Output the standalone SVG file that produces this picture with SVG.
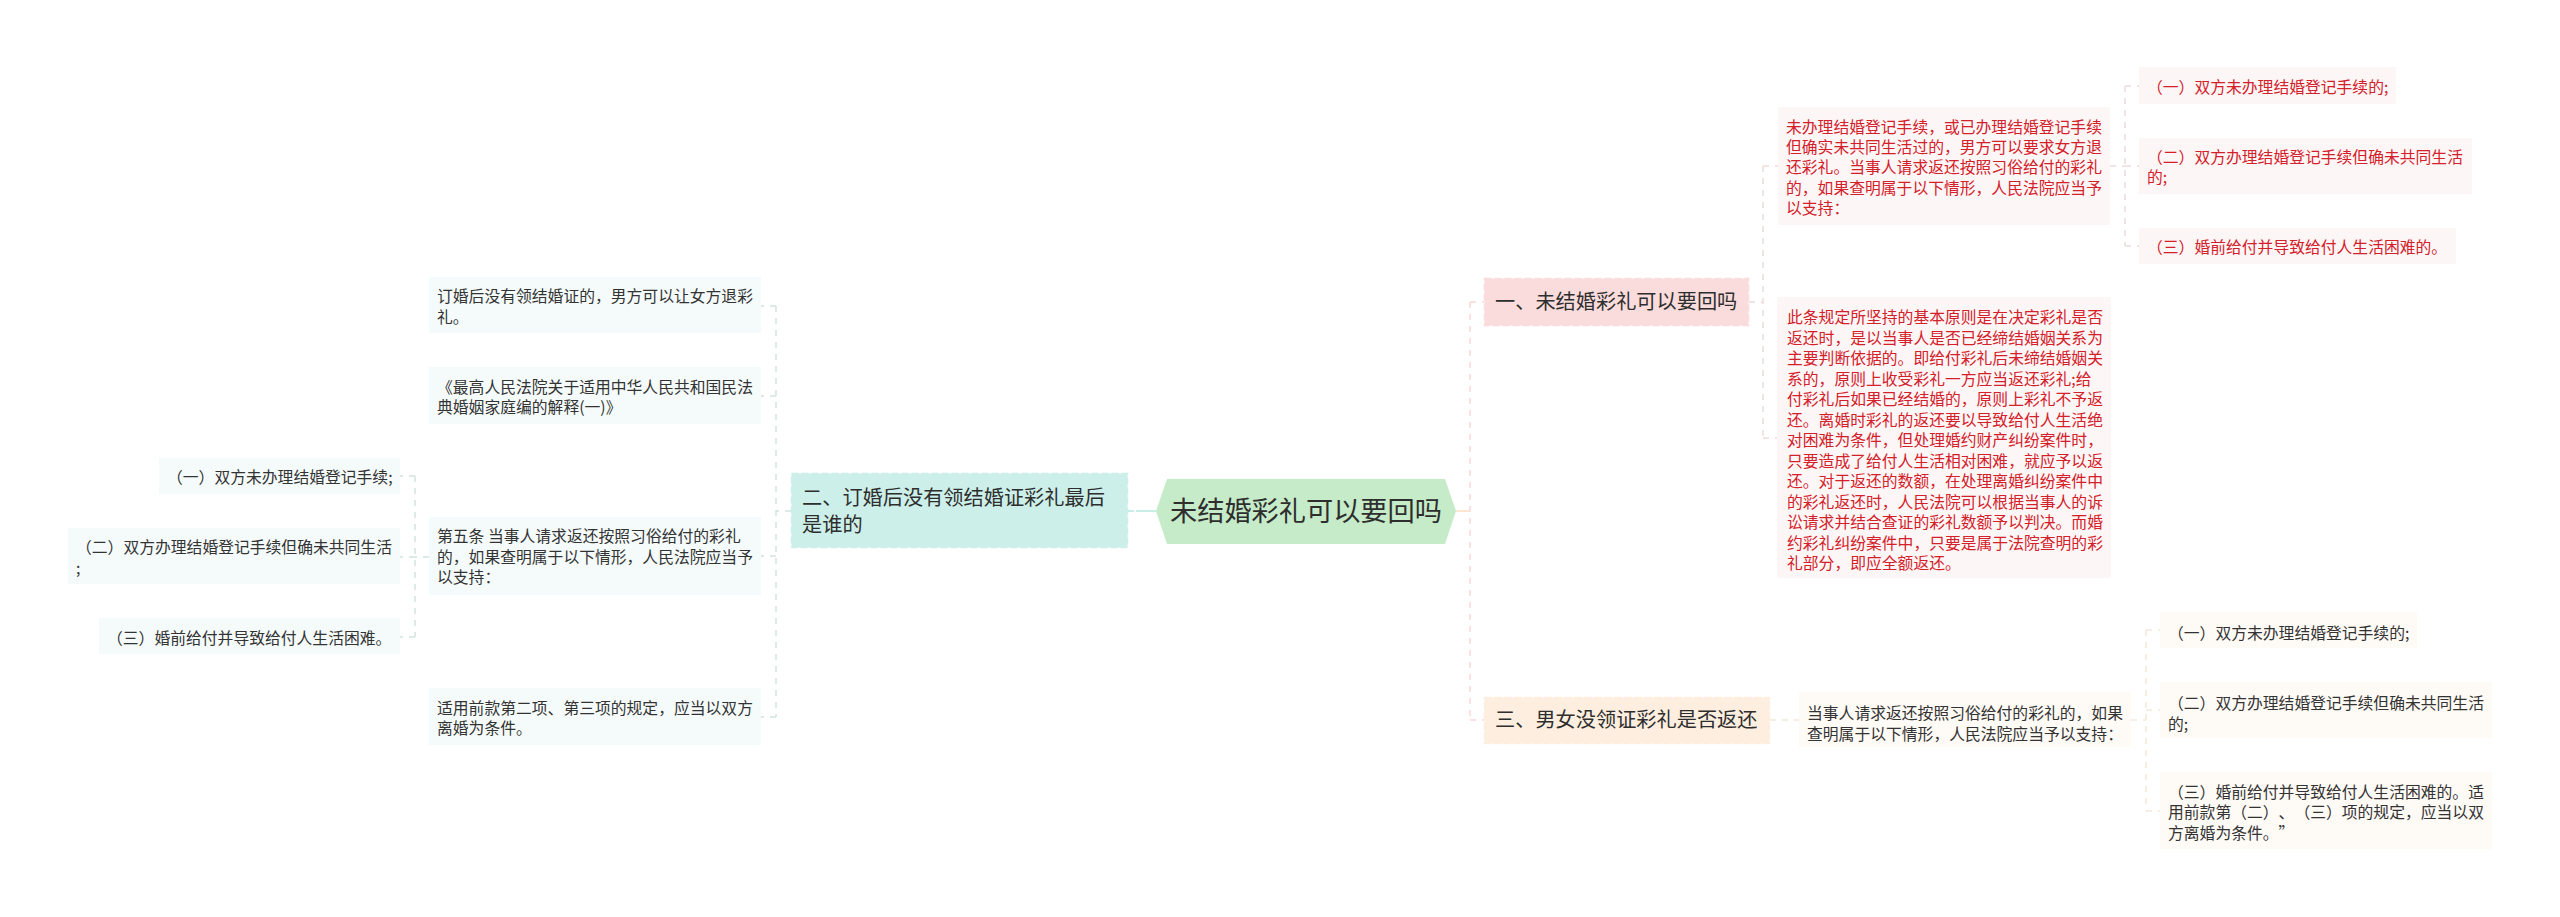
<svg xmlns="http://www.w3.org/2000/svg" width="2560" height="917" viewBox="0 0 2560 917">
<style>
text{font-family:"Noto Sans CJK SC","Liberation Sans",sans-serif;font-size:15.8px;fill:#333;font-weight:400;text-spacing-trim:space-all;font-feature-settings:"chws" 0,"palt" 0}
.l1 text{font-size:20.2px;fill:#2e2e2e}
.red text{fill:#d4202a}
.c{fill:none;stroke-width:1.5;stroke-dasharray:6 6}
.cr{stroke:#eddcdd}.co{stroke:#f3e8da}.cb{stroke:#d3e3e1}.cp{stroke:#fad8d8}
.nr{fill:#fdf6f6}.no{fill:#fefaf5}.nb{fill:#f5fbfb}
.d{stroke-width:1.5;stroke-dasharray:7 3}
</style>
<rect width="2560" height="917" fill="#fff"/>
<g id="connectors">
<path class="c cp" d="M1470 302V720M1470 302H1484M1470 720H1484"/>
<path d="M1456 511H1470" fill="none" stroke="#fbe6d2" stroke-width="2"/>
<path class="c cr" d="M1749 302H1763M1763 166V438M1763 166H1778M1763 438H1777"/>
<path class="c cr" d="M2110 166H2125M2125 86V246M2125 86H2139M2125 166H2139M2125 246H2139"/>
<path class="c co" d="M1770 720H1799M2131 720H2146M2146 630V811M2146 630H2160M2146 710H2160M2146 811H2160"/>
<path d="M1128 511H1134M1136 511H1156" fill="none" stroke="#c9eee8" stroke-width="2"/>
<path class="c cb" d="M791 511H776M776 306V717M776 306H761M776 396H761M776 556H761M776 717H761"/>
<path class="c cb" d="M429 557H415M415 476V637M415 476H400M415 557H400M415 637H400"/>
</g>
<g id="root"><polygon points="1156,511 1167,479 1445,479 1456,511 1445,544 1167,544" fill="#c6ebc8"/><text x="1170" y="521" style="font-size:27.2px;fill:#2e2e2e">未结婚彩礼可以要回吗</text></g>
<g id="n1" class="l1"><rect class="d" x="1484.500" y="278.500" width="264" height="47" fill="#fbdcdc" stroke="#fbdcdc"/><text x="1495" y="309">一、未结婚彩礼可以要回吗</text></g>
<g id="n2" class="l1"><rect class="d" x="791.500" y="473.500" width="336" height="74" fill="#ccefe9" stroke="#ccefe9"/><text><tspan x="802" y="504.500">二、订婚后没有领结婚证彩礼最后</tspan><tspan x="802" y="532">是谁的</tspan></text></g>
<g id="n3" class="l1"><rect class="d" x="1484.500" y="697.500" width="285" height="46" fill="#fdeedf" stroke="#fdeedf"/><text x="1495" y="727">三、男女没领证彩礼是否返还</text></g>
<g id="r1" class="red"><rect class="nr" x="1778" y="107" width="332" height="118"/><text><tspan x="1786" y="132.500">未办理结婚登记手续，或已办理结婚登记手续</tspan><tspan x="1786" y="153">但确实未共同生活过的，男方可以要求女方退</tspan><tspan x="1786" y="173">还彩礼。当事人请求返还按照习俗给付的彩礼</tspan><tspan x="1786" y="194">的，如果查明属于以下情形，人民法院应当予</tspan><tspan x="1786" y="214">以支持：</tspan></text></g>
<g id="r1a" class="red"><rect class="nr" x="2139" y="67" width="257" height="37"/><text x="2147" y="93">（一）双方未办理结婚登记手续的;</text></g>
<g id="r1b" class="red"><rect class="nr" x="2139" y="138" width="333" height="56"/><text><tspan x="2147" y="163">（二）双方办理结婚登记手续但确未共同生活</tspan><tspan x="2147" y="183">的;</tspan></text></g>
<g id="r1c" class="red"><rect class="nr" x="2139" y="228" width="317" height="36"/><text x="2147" y="253">（三）婚前给付并导致给付人生活困难的。</text></g>
<g id="r2" class="red"><rect class="nr" x="1777" y="297" width="334" height="281"/><text><tspan x="1787" y="323">此条规定所坚持的基本原则是在决定彩礼是否</tspan><tspan x="1787" y="344">返还时，是以当事人是否已经缔结婚姻关系为</tspan><tspan x="1787" y="364">主要判断依据的。即给付彩礼后未缔结婚姻关</tspan><tspan x="1787" y="385">系的，原则上收受彩礼一方应当返还彩礼;给</tspan><tspan x="1787" y="405">付彩礼后如果已经结婚的，原则上彩礼不予返</tspan><tspan x="1787" y="426">还。离婚时彩礼的返还要以导致给付人生活绝</tspan><tspan x="1787" y="446">对困难为条件，但处理婚约财产纠纷案件时，</tspan><tspan x="1787" y="467">只要造成了给付人生活相对困难，就应予以返</tspan><tspan x="1787" y="487">还。对于返还的数额，在处理离婚纠纷案件中</tspan><tspan x="1787" y="508">的彩礼返还时，人民法院可以根据当事人的诉</tspan><tspan x="1787" y="528">讼请求并结合查证的彩礼数额予以判决。而婚</tspan><tspan x="1787" y="549">约彩礼纠纷案件中，只要是属于法院查明的彩</tspan><tspan x="1787" y="569">礼部分，即应全额返还。</tspan></text></g>
<g id="o1"><rect class="no" x="1799" y="692" width="332" height="55"/><text><tspan x="1807" y="719">当事人请求返还按照习俗给付的彩礼的，如果</tspan><tspan x="1807" y="740">查明属于以下情形，人民法院应当予以支持：</tspan></text></g>
<g id="o1a"><rect class="no" x="2160" y="612" width="257" height="36"/><text x="2168" y="639">（一）双方未办理结婚登记手续的;</text></g>
<g id="o1b"><rect class="no" x="2160" y="682" width="332" height="56"/><text><tspan x="2168" y="709">（二）双方办理结婚登记手续但确未共同生活</tspan><tspan x="2168" y="730">的;</tspan></text></g>
<g id="o1c"><rect class="no" x="2160" y="772" width="332" height="77"/><text><tspan x="2168" y="798">（三）婚前给付并导致给付人生活困难的。适</tspan><tspan x="2168" y="818">用前款第（二）、（三）项的规定，应当以双</tspan><tspan x="2168" y="839">方离婚为条件。”</tspan></text></g>
<g id="b1"><rect class="nb" x="429" y="277" width="332" height="56"/><text><tspan x="437" y="302">订婚后没有领结婚证的，男方可以让女方退彩</tspan><tspan x="437" y="323">礼。</tspan></text></g>
<g id="b2"><rect class="nb" x="429" y="367" width="332" height="57"/><text><tspan x="437" y="393">《最高人民法院关于适用中华人民共和国民法</tspan><tspan x="437" y="413">典婚姻家庭编的解释(一)》</tspan></text></g>
<g id="b3"><rect class="nb" x="429" y="517" width="332" height="78"/><text><tspan x="437" y="542">第五条 当事人请求返还按照习俗给付的彩礼</tspan><tspan x="437" y="563">的，如果查明属于以下情形，人民法院应当予</tspan><tspan x="437" y="583">以支持：</tspan></text></g>
<g id="b4"><rect class="nb" x="429" y="688" width="332" height="57"/><text><tspan x="437" y="714">适用前款第二项、第三项的规定，应当以双方</tspan><tspan x="437" y="734">离婚为条件。</tspan></text></g>
<g id="b3a"><rect class="nb" x="159" y="458" width="241" height="36"/><text x="167" y="483">（一）双方未办理结婚登记手续;</text></g>
<g id="b3b"><rect class="nb" x="68" y="528" width="332" height="56"/><text><tspan x="76" y="553">（二）双方办理结婚登记手续但确未共同生活</tspan><tspan x="76" y="574">;</tspan></text></g>
<g id="b3c"><rect class="nb" x="99" y="618" width="301" height="36"/><text x="107" y="644">（三）婚前给付并导致给付人生活困难。</text></g>
</svg>
